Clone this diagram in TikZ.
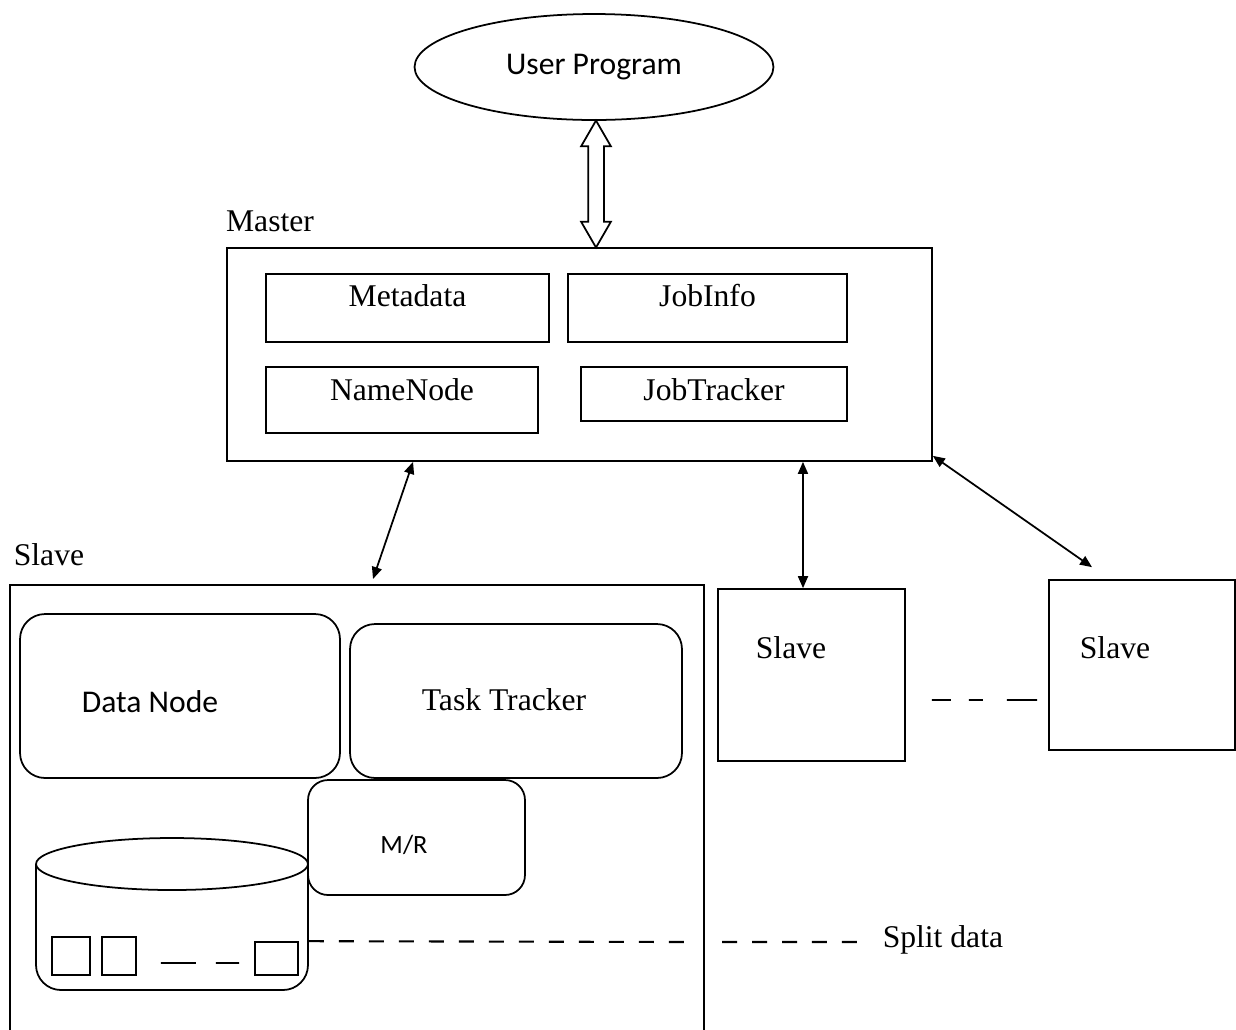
\documentclass[tikz,border=0pt]{standalone}
\usepackage{fontspec}
\setmainfont{Liberation Serif}
\newfontfamily\calibri{Carlito}
\usepackage{tikz}
\usetikzlibrary{arrows.meta,shapes.geometric,shapes.arrows}

\begin{document}
\begin{tikzpicture}[x=0.02cm, y=-0.02cm, line width=1pt,
                        font=\fontsize{18}{21}\selectfont,
                        sans/.style={font=\calibri\fontsize{18}{21}\selectfont},
                        box/.style={draw, rectangle, inner sep=0pt},
                        roundbox/.style={draw, rectangle, rounded corners=0.5cm, inner sep=0pt},
                        link/.style={<->, >={Triangle[length=0.24cm, width=0.2cm]}},
                        splitline/.style={dash pattern=on 0.3cm off 0.3cm, line width=1.2pt}]

                        \useasboundingbox (0,0) rectangle (1236,1029);

                        \node [draw, ellipse, sans, minimum width=7.18cm, minimum height=2.12cm] (user) at (594,67) {User Program};

                        \node [draw, double arrow, rotate=90, minimum height=2.54cm, minimum width=0.56cm, inner xsep=0pt, inner ysep=0.14cm,
                               double arrow head extend=0.14cm, double arrow tip angle=60] (pipe) at (596,184) {};

                        % master
                        \node (masterlbl) at (270,221) {Master};
                        \node [box, minimum width=14.1cm, minimum height=4.26cm] (master) at (579.5,354.5) {};

                        \node [box, minimum width=5.66cm, minimum height=1.36cm, label={[yshift=0.24cm]center:Metadata}] (meta) at (407.5,308) {};
                        \node [box, minimum width=5.58cm, minimum height=1.36cm, label={[yshift=0.24cm]center:JobInfo}] (jobinfo) at (707.5,308) {};
                        \node [box, minimum width=5.44cm, minimum height=1.32cm, label={[yshift=0.2cm]center:NameNode}] (namenode) at (402,400) {};
                        \node [box, minimum width=5.32cm, minimum height=1.08cm, label={[yshift=0.08cm]center:JobTracker}] (jobtracker) at (714,394) {};

                        % slaves
                        \node (slavelbl) at (49,555) {Slave};
                        \draw (10,1035) |- (704,585) -- (704,1035);
                        \coordinate (slaveA) at (373,579);

                        \node [box, minimum width=3.74cm, minimum height=3.44cm, label={[xshift=-0.41cm, yshift=0.54cm]center:Slave}] (slaveB) at (811.5,675) {};
                        \node [box, minimum width=3.72cm, minimum height=3.4cm, label={[xshift=-0.54cm, yshift=0.34cm]center:Slave}] (slaveC) at (1142,665) {};

                        \draw [link] ([xshift=-3.33cm]master.south) -- (slaveA);
                        \draw [link] ([xshift=4.47cm]master.south) -- ([xshift=-0.17cm]slaveB.north);
                        \draw [link] ([yshift=0.12cm]master.south east) -- ([xshift=-1.0cm, yshift=0.24cm]slaveC.north);

                        \draw [dash pattern=on 0.38cm off 0.36cm on 0.28cm off 0.48cm on 0.64cm, shorten <=0.52cm, shorten >=0.22cm]
                              ([yshift=-0.5cm]slaveB.east) -- ([yshift=-0.7cm]slaveC.west);

                        % inside the first slave
                        \node [roundbox, minimum width=6.4cm, minimum height=3.28cm, label={[sans, xshift=-0.6cm, yshift=-0.12cm]center:Data Node}] (datanode) at (180,696) {};
                        \node [roundbox, minimum width=6.64cm, minimum height=3.08cm, label={[xshift=-0.24cm, yshift=0.02cm]center:Task Tracker}] (tasktracker) at (516,701) {};
                        \node [roundbox, rounded corners=0.4cm, minimum width=4.34cm, minimum height=2.3cm,
                               label={[font=\calibri\fontsize{15}{18}\selectfont, xshift=-0.25cm, yshift=-0.15cm]center:M/R}] (mr) at (416.5,837.5) {};

                        % disk with its blocks
                        \draw (172,864) ellipse [x radius=2.72cm, y radius=0.52cm];
                        \draw [rounded corners=0.5cm] (36,864) -- (36,990) -- (308,990) -- (308,864);

                        \node [box, minimum width=0.76cm, minimum height=0.76cm] (blk1) at (71,956) {};
                        \node [box, minimum width=0.68cm, minimum height=0.76cm] (blk2) at (119,956) {};
                        \node [box, minimum width=0.86cm, minimum height=0.66cm] (blk3) at (276.5,958.5) {};
                        \draw [dash pattern=on 0.7cm off 0.4cm on 0.5cm] ([shift={(0.48cm,-0.14cm)}]blk2.east) -- ([shift={(-0.3cm,-0.09cm)}]blk3.west);

                        \node [anchor=west] (split) at (876,940) {Split data};
                        \coordinate (gapL) at (688,942);
                        \coordinate (gapR) at (722,942);
                        \draw [splitline, shorten <=0.2cm] (blk3.north east) -- (gapL);
                        \draw [splitline, shorten >=0.2cm] (gapR) -- ([yshift=-0.04cm]split.west);
                    \end{tikzpicture}
\end{document}
